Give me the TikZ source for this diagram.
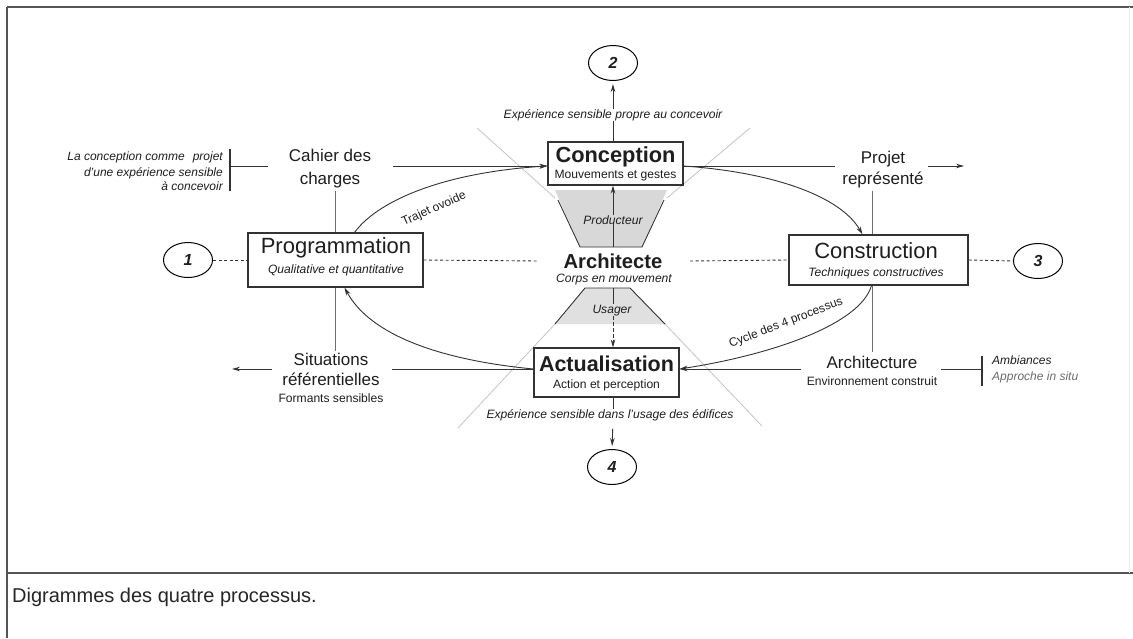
\documentclass[tikz,border=0pt]{standalone}
\usepackage{fontspec}
\setmainfont{Liberation Sans}
\usetikzlibrary{arrows.meta,shapes.geometric,calc}
\definecolor{ink}{HTML}{1E1E1E}
\definecolor{lin}{HTML}{333333}
\definecolor{vln}{HTML}{6E6E6E}
\definecolor{faint}{HTML}{C4C4C4}
\definecolor{frm}{HTML}{555555}
\definecolor{trap}{HTML}{D8D8D8}
\begin{document}
\begin{tikzpicture}[x=1pt,y=-1pt,
  every node/.style={text=ink, inner sep=0pt},
  box/.style={draw=lin, line width=1.1pt, fill=white},
  numell/.style={ellipse, draw=black, line width=1pt, fill=white, minimum width=49pt, minimum height=35pt, font=\fontsize{16}{18}\selectfont\bfseries\itshape},
  ttl/.style={font=\fontsize{21.8}{24}\selectfont\bfseries, anchor=base},
  ptl/.style={font=\fontsize{22}{24}\selectfont, anchor=base},
  sub/.style={font=\fontsize{12.1}{14}\selectfont, anchor=base},
  isub/.style={font=\fontsize{12.1}{14}\selectfont\itshape, anchor=base},
  lab/.style={font=\fontsize{17}{19}\selectfont, anchor=base},
  note/.style={font=\fontsize{12}{14}\selectfont\itshape, anchor=base},
  hl/.style={draw=lin, line width=0.9pt},
  vl/.style={draw=vln, line width=1pt},
  dl/.style={draw=lin, line width=0.9pt, dash pattern=on 3pt off 2.5pt},
  fl/.style={draw=faint, line width=0.8pt},
  brk/.style={draw=lin, line width=1.8pt},
  arr/.style={-{Stealth[length=8pt,width=4.5pt]}}
]
\useasboundingbox (0,0) rectangle (1133,638);
\fill[white] (0,0) rectangle (1133,638);
% frame
\draw[draw=frm, line width=1.4pt] (7,7) -- (1133,7);
\draw[draw=frm, line width=1.4pt] (7,7) -- (7,638);
\draw[draw=frm, line width=1.4pt] (7,573) -- (1133,573);
\draw[draw=gray!15, line width=1pt] (1129,7) -- (1129,573);

% faint guide lines
\draw[fl] (477,128) -- (555,198);
\draw[fl] (750,128) -- (667,198);
\draw[fl] (555,324) -- (458,428);
\draw[fl] (665,324) -- (762,426);

% trapezoids
\fill[trap] (555,190) -- (667,190) -- (642,247) -- (580,247) -- cycle;
\draw[hl] (558,200) -- (580,247) -- (642,247) -- (664,200);
\fill[trap!80] (585,288) -- (630,288) -- (665,324) -- (555,324) -- cycle;
\draw[hl] (555,324) -- (585,288) -- (630,288) -- (665,324);

% boxes
\node[box, minimum width=135pt, minimum height=43pt] (conc) at (615.5,163.5) {};
\node[ttl] (conct) at (615.5,162) {Conception};
\node[sub] (concs) at (615.5,178) {Mouvements et gestes};

\node[box, minimum width=175pt, minimum height=54pt] (prog) at (335.5,260) {};
\node[ptl] (progt) at (336,253) {Programmation};
\node[isub] (progs) at (336,273) {Qualitative et quantitative};

\node[box, minimum width=179pt, minimum height=50pt] (cons) at (878.5,260) {};
\node[ptl] (const) at (876,258) {Construction};
\node[isub] (conss) at (876,276) {Techniques constructives};

\node[box, minimum width=145pt, minimum height=49pt] (act) at (606.5,372.5) {};
\node[ttl, font=\fontsize{21.5}{24}\selectfont\bfseries] (actt) at (606.5,371) {Actualisation};
\node[sub] (acts) at (606.5,388) {Action et perception};

\node[ttl, font=\fontsize{20.2}{24}\selectfont\bfseries] (arch) at (613,268) {Architecte};
\node[isub] (archs) at (614,282) {Corps en mouvement};

% numbered ellipses
\node[numell] (n1) at (188,260) {1};
\node[numell] (n2) at (613,63) {2};
\node[numell] (n3) at (1038,261) {3};
\node[numell] (n4) at (612,467) {4};

% labels
\node[isub] (expC) at (613,118) {Expérience sensible propre au concevoir};
\node[isub] (expA) at (610,418) {Expérience sensible dans l'usage des édifices};
\node[isub] (prod) at (613,224) {Producteur};
\node[isub] (usg) at (612,313) {Usager};

\node[lab] (cah1) at (330,161) {Cahier des};
\node[lab] (cah2) at (330,184) {charges};
\node[lab] (prj1) at (883,163) {Projet};
\node[lab] (prj2) at (883,184) {représenté};
\node[lab] (sit1) at (331,365) {Situations};
\node[lab] (sit2) at (331,385) {référentielles};
\node[sub] (sit3) at (331,402) {Formants sensibles};
\node[lab] (arc1) at (872,368) {Architecture};
\node[sub] (arc2) at (872,385) {Environnement construit};

\node[note, anchor=base east] (nl1) at (223,160) {La conception comme\hspace{8pt}projet};
\node[note, anchor=base east] (nl2) at (223,176) {d'une expérience sensible};
\node[note, anchor=base east] (nl3) at (223,190) {à concevoir};
\node[note, anchor=base west] (nr1) at (992,364) {Ambiances};
\node[note, anchor=base west, text=gray!85!black] (nr2) at (992,380) {Approche in situ};

\node[font=\fontsize{12}{14}\selectfont, rotate=24] (trj) at (434,209) {Trajet ovoide};
\node[font=\fontsize{12}{14}\selectfont, rotate=21] (cyc) at (786,323) {Cycle des 4 processus};

\node[anchor=base west, font=\fontsize{20}{24}\selectfont, text=black!85] (cap) at (12,602) {Digrammes des quatre processus.};

% helper coordinates
\coordinate (ht) at (0,166);
\coordinate (hb) at (0,369);
\coordinate (ctR) at (393,166);
\coordinate (prjL) at (835,166);
\coordinate (prjR) at (928,166);
\coordinate (prjA) at (964,166);
\coordinate (sitR) at (392,369);
\coordinate (sitL) at (272,369);
\coordinate (sitA) at (232,369);
\coordinate (arcL) at (801,369);
\coordinate (arcR) at (941,369);
\coordinate (bR) at (982,369);
\coordinate (bL) at (230,166);
\coordinate (cahL) at (268,166);
\coordinate (archL) at (538,261);
\coordinate (archR) at (690,261);
\coordinate (pb) at (613,247);
\coordinate (ut) at (613,288);

% axis connectors
\draw[hl, arr, shorten >=3pt] (expC.north -| n2) -- (n2.south);
\draw[hl] (expC.south -| n2) -- (conc.north -| n2);
\draw[hl, arr] (prod.north) -- (conc.south -| prod);
\draw[hl] (prod.south) -- (pb);
\draw[hl] (ut) -- (ut |- usg.north);
\draw[hl, arr, dash pattern=on 4pt off 2pt] (usg.south -| ut) -- (act.north -| ut);
\draw[hl] (act.south -| ut) -- (ut |- expA.north);
\draw[hl, arr, shorten <=8pt, shorten >=3pt] (expA.south -| ut) -- (n4.north);

% dashed horizontal
\draw[dl] (n1.east) -- (prog.west);
\draw[dl] (prog.east) -- (archL);
\draw[dl] (archR) -- (cons.west);
\draw[dl] (cons.east) -- (n3.west);

% horizontal lines
\draw[hl, arr] (ctR) -- (conc.west |- ht);
\draw[hl] (conc.east |- ht) -- (prjL);
\draw[hl, arr] (prjR) -- (prjA);
\draw[hl, arr] (arcL) -- (act.east |- hb);
\draw[hl] (act.west |- hb) -- (sitR);
\draw[hl, arr] (sitL) -- (sitA);
\draw[hl] (arcR) -- (bR);
\draw[brk] (982,356) -- (982,386);
\draw[hl] (cahL) -- (bL);
\draw[brk] (230,149) -- (230,191);

% vertical grey lines
\draw[vl] (prog.north) -- (prog.north |- 0,191);
\draw[vl] (prog.south) -- (prog.south |- 0,351);
\draw[vl] ([xshift=-6.5pt]cons.north) -- ([xshift=-6.5pt]cons.north |- 0,191);
\draw[vl] ([xshift=-6.5pt]cons.south) -- ([xshift=-6.5pt]cons.south |- 0,352);

% cycle curves
\draw[hl, arr] ([xshift=19pt]prog.north) .. controls (380,198) and (450,172) .. (conc.west |- ht);
\draw[hl, arr] (conc.east |- ht) .. controls (770,172) and (840,195) .. ([xshift=-16pt]cons.north);
\draw[hl, arr] ([xshift=-7pt]cons.south) .. controls (860,325) and (770,355) .. (act.east |- hb);
\draw[hl, arr] (act.west |- hb) .. controls (440,360) and (370,335) .. ([xshift=9pt]prog.south);
\end{tikzpicture}
\end{document}
